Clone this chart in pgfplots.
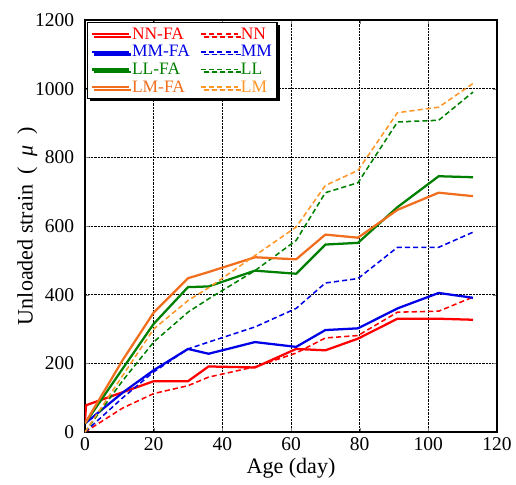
\documentclass[border=0pt]{standalone}
\usepackage{fontspec}
\setmainfont{Liberation Serif}
\usepackage{pgfplots}
\pgfplotsset{compat=1.18}
\usetikzlibrary{shadows}
\definecolor{cNN}{RGB}{255,0,0}
\definecolor{cMM}{RGB}{0,0,230}
\definecolor{cLL}{RGB}{0,128,0}
\definecolor{cLMFA}{RGB}{240,110,30}
\definecolor{cLM}{RGB}{255,150,40}
\begin{document}
\begin{tikzpicture}
\useasboundingbox (-82.5bp,-50.5bp) rectangle (418.4bp,419.4bp);
\begin{axis}[
  at={(0,0)}, anchor=south west,
  scale only axis,
  width=400bp, height=400bp,
  xmin=0, xmax=120, ymin=0, ymax=1200,
  xtick={0,20,40,60,80,100,120}, ytick={0,200,400,600,800,1000,1200},
  xticklabels={0,20,40,60,80,100,120},
  yticklabels={0,200,400,600,800,1000,1200},
  tick align=inside,
  axis line style={line width=1.2pt},
  grid=major,
  major grid style={black, densely dotted, line width=0.6pt},
  tick label style={font=\rmfamily\fontsize{19}{21}\selectfont},
  yticklabel style={xshift=-7bp},
  xticklabel style={yshift=-2bp},
  xlabel={Age (day)},
  ylabel={Unloaded strain\hspace{0.45em}(\hspace{0.5em}\textit{μ}\hspace{0.5em})},
  label style={font=\rmfamily\fontsize{21.5}{23}\selectfont},
  xlabel style={at={(axis description cs:0.5,-0.088)}, anchor=center},
  ylabel style={at={(axis description cs:-0.14,0.5)}, anchor=center},
  legend columns=2,
  legend cell align=left,
  legend image code/.code={\draw[#1] (0bp,0bp) -- (36bp,0bp);},
  legend style={at={(0.005,0.995)}, anchor=north west, draw=black, line width=1pt,
    font=\rmfamily\fontsize{17}{18}\selectfont, fill=white,
    inner xsep=3pt, inner ysep=3pt, row sep=0.5pt,
    /tikz/every even column/.append style={column sep=8bp},
    drop shadow={shadow xshift=2.5pt, shadow yshift=-2.5pt, fill=black, opacity=1}},
  every axis plot/.append style={line join=round},
]
% NN-FA
\addplot[cNN, line width=2.2pt] coordinates {(0,30)(0.3,78)(20,148)(30,148)(36,191)(49.5,188)(61.5,242)(70,238)(79.5,272)(91,330)(103,330)(113,327)};
\addlegendentry{\textcolor{cNN}{NN-FA}}
% NN
\addplot[cNN, line width=1.5pt, dash pattern=on 5pt off 3pt] coordinates {(0,0)(11,70)(20,112)(30,135)(36,160)(49.5,190)(61.5,230)(70,274)(79.5,281)(91,349)(103,352)(113,393)};
\addlegendentry{\textcolor{cNN}{NN}}
% MM-FA
\addplot[cMM, line width=2.2pt] coordinates {(0,25)(11,115)(20,180)(30,242)(36,228)(49.5,262)(61.5,248)(70,297)(79.5,302)(91,360)(103,405)(113,391)};
\addlegendentry{\textcolor{cMM}{MM-FA}}
% MM
\addplot[cMM, line width=1.5pt, dash pattern=on 5pt off 3pt] coordinates {(0,0)(11,100)(20,175)(30,242)(36,262)(49.5,306)(61.5,360)(70,434)(79.5,447)(91,538)(103,538)(113,582)};
\addlegendentry{\textcolor{cMM}{MM}}
% LL-FA
\addplot[cLL, line width=2.2pt] coordinates {(0,25)(11,185)(20,315)(30,422)(36,424)(49.5,470)(61.5,461)(70,546)(79.5,551)(91,655)(103,745)(113,742)};
\addlegendentry{\textcolor{cLL}{LL-FA}}
% LL
\addplot[cLL, line width=1.5pt, dash pattern=on 5pt off 3pt] coordinates {(0,0)(11,150)(20,262)(30,349)(36,388)(49.5,470)(61.5,558)(70,697)(79.5,726)(91,903)(103,908)(113,990)};
\addlegendentry{\textcolor{cLL}{LL}}
% LM-FA
\addplot[cLMFA, line width=2.2pt] coordinates {(0,25)(11,210)(20,348)(30,448)(36,466)(49.5,509)(61.5,503)(70,575)(79.5,566)(91,647)(103,697)(113,687)};
\addlegendentry{\textcolor{cLMFA}{LM-FA}}
% LM
\addplot[cLM, line width=1.5pt, dash pattern=on 5pt off 3pt] coordinates {(0,0)(11,165)(20,300)(30,383)(36,420)(49.5,514)(61.5,597)(70,718)(79.5,762)(91,930)(103,946)(113,1015)};
\addlegendentry{\textcolor{cLM}{LM}}
\end{axis}
\end{tikzpicture}
\end{document}
